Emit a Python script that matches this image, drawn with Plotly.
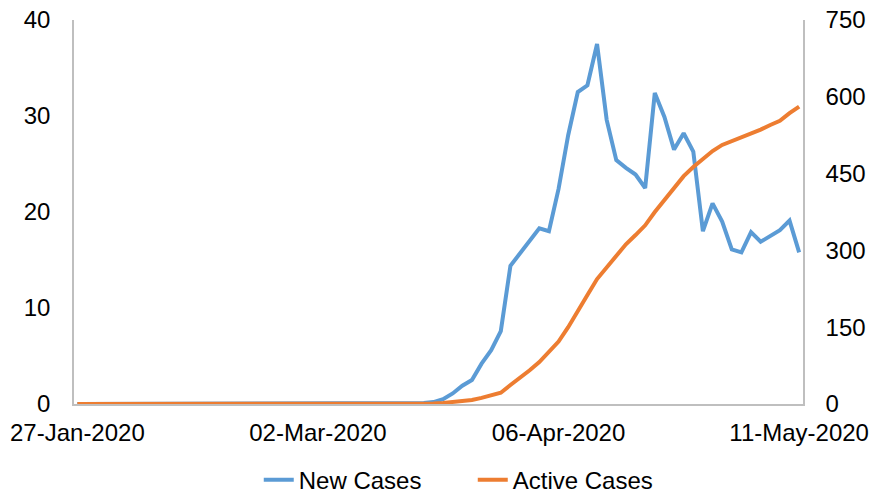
import plotly.graph_objects as go

# x categories (index of each plotted point; labels shown every 25 points)
categories = list(range(76))
tick_positions = [0, 25, 50, 75]
tick_labels = ["27-Jan-2020", "02-Mar-2020", "06-Apr-2020", "11-May-2020"]

new_cases = [0] * 35 + [
    0.1, 0.1, 0.2, 0.5, 1.1, 1.9, 2.5, 4.2, 5.6, 7.6,
    14.4, 15.7, 17.0, 18.3, 18.0, 22.4, 28.0, 32.5, 33.2, 37.5,
    29.6, 25.4, 24.6, 23.9, 22.5, 32.4, 29.9, 26.5, 28.2, 26.3,
    18.0, 20.9, 19.0, 16.1, 15.8, 17.9, 16.9, 17.5, 18.1, 19.1,
    15.8,
]

active_cases = [0] * 37 + [
    1, 2, 4, 6, 8, 12, 16, 22,
    37, 51, 66, 82, 101, 122, 150, 183, 213, 244,
    266, 290, 312, 330, 349, 375, 399, 422, 445, 463,
    478, 494, 506, 513, 521, 528, 536, 545, 553, 568,
    581,
]

left_ticks = [0, 10, 20, 30, 40]
right_ticks = [0, 150, 300, 450, 600, 750]

FONT = "Liberation Sans, Arial, sans-serif"
AXIS_COLOR = "#BFBFBF"

fig = go.Figure()
fig.add_trace(go.Scatter(
    x=categories, y=new_cases, name="New Cases", mode="lines",
    line=dict(color="#5B9BD5", width=4), yaxis="y",
))
fig.add_trace(go.Scatter(
    x=categories, y=active_cases, name="Active Cases", mode="lines",
    line=dict(color="#ED7D31", width=4), yaxis="y2",
))

fig.update_layout(
    width=875, height=495,
    margin=dict(l=74, r=72, t=20, b=91, autoexpand=False),
    paper_bgcolor="white", plot_bgcolor="white",
    font=dict(family=FONT, size=24, color="#000000"),
    showlegend=True,
    legend=dict(orientation="h", x=0.547, xanchor="center", y=-0.198, yanchor="middle",
                font=dict(size=24), tracegroupgap=0, entrywidth=169),
    xaxis=dict(
        range=[-0.35, 75.4], tickmode="array", tickvals=tick_positions, ticktext=tick_labels,
        showgrid=False, zeroline=False, showline=True, linecolor=AXIS_COLOR, linewidth=1.5,
        ticks="", ticklabelstandoff=6, automargin=False,
    ),
    yaxis=dict(
        range=[0, 40], tickvals=left_ticks, showgrid=False, zeroline=False,
        showline=True, linecolor=AXIS_COLOR, linewidth=1.5, ticks="", ticklabelstandoff=17,
        automargin=False,
    ),
    yaxis2=dict(
        range=[0, 750], tickvals=right_ticks, overlaying="y", side="right",
        showgrid=False, zeroline=False, showline=True, linecolor=AXIS_COLOR, linewidth=1.5,
        ticks="", ticklabelstandoff=16, automargin=False,
    ),
)

fig.write_html(
    "out.html",
    config={"displayModeBar": False},
    post_script="document.body.style.margin='0';document.body.style.overflow='hidden';",
)
